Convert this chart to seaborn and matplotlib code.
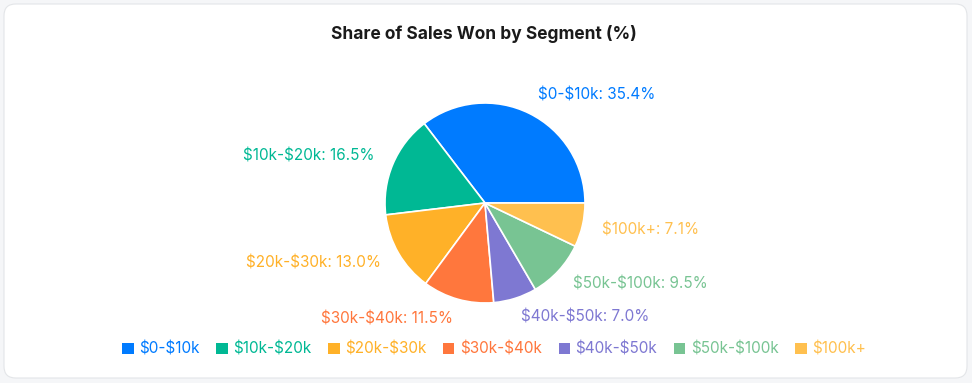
import matplotlib.pyplot as plt
import seaborn as sns
from matplotlib.patches import FancyBboxPatch, Patch

segments = ["$0-$10k", "$10k-$20k", "$20k-$30k", "$30k-$40k", "$40k-$50k", "$50k-$100k", "$100k+"]
share = [35.4, 16.5, 13.0, 11.5, 7.0, 9.5, 7.1]
colors = ["#007bff", "#00b894", "#ffb128", "#ff773d", "#7e78d2", "#78c493", "#ffc04f"]

sns.set_theme(style="white")
plt.rcParams['font.family'] = ['Inter', 'DejaVu Sans']
plt.rcParams['text.parse_math'] = False  # dollar signs are literal
palette = sns.color_palette(colors)

W, H = 972, 383
fig = plt.figure(figsize=(W / 100, H / 100), dpi=100)
fig.patch.set_facecolor("#f5f6f8")

# white card, kept behind the axes
card = FancyBboxPatch((4 / W, 5 / H), 963 / W, 374 / H,
                      boxstyle="round,pad=0,rounding_size=0.012",
                      transform=fig.transFigure, facecolor="white",
                      edgecolor="#e3e5e8", linewidth=0.8, mutation_aspect=W / H,
                      zorder=-5)
fig.patches.append(card)

fig.text(484 / W, 1 - 34 / H, "Share of Sales Won by Segment (%)",
         ha="center", va="center", fontsize=12.5, fontweight="bold", color="#1a1a1a")

# axes sized so radius 1 = 100 px, centred at (485, 203)
ax = fig.add_axes([335 / W, (H - 203 - 150) / H, 300 / W, 300 / H])
ax.patch.set_alpha(0)
wedges, texts = ax.pie(share, colors=palette, startangle=0, counterclock=True,
                       labels=[f"{s}: {v:.1f}%" for s, v in zip(segments, share)],
                       labeldistance=1.2,
                       wedgeprops=dict(edgecolor="white", linewidth=1.2),
                       textprops=dict(fontsize=11))
for t, c in zip(texts, palette):
    t.set_color(c)
ax.set_xlim(-1.5, 1.5)
ax.set_ylim(-1.5, 1.5)
ax.set_aspect("equal")
ax.axis("off")

handles = [Patch(facecolor=c, edgecolor="none") for c in palette]
fig.legend(handles, segments, loc="center", bbox_to_anchor=(494 / W, 1 - 349 / H),
           ncol=7, frameon=False, fontsize=11, labelcolor=list(palette),
           handlelength=0.75, handleheight=0.75, handletextpad=0.35, columnspacing=1.1)

fig.savefig("out.png", dpi=100, facecolor=fig.get_facecolor())
